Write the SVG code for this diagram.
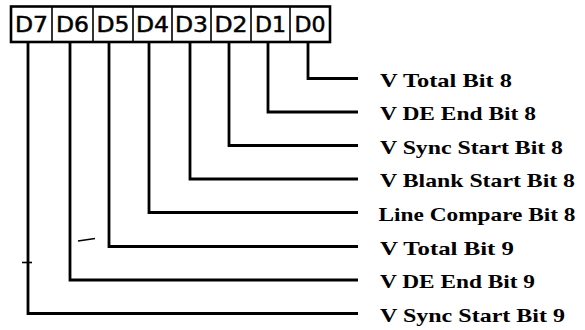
<svg xmlns="http://www.w3.org/2000/svg" width="585" height="330" viewBox="0 0 585 330">
  <style>
    .frame { fill: #fff; stroke: #000; stroke-width: 2.6; }
    .div { stroke: #000; stroke-width: 1.6; }
    .bit { font-family: "DejaVu Sans", "Liberation Sans", sans-serif; font-size: 21px; fill: #000; stroke: #000; stroke-width: 0.5; text-anchor: middle; }
    .wire { fill: none; stroke: #000; stroke-width: 2.8; stroke-linejoin: miter; }
    .lbl { font-family: "Liberation Serif", "Times New Roman", serif; font-weight: bold; font-size: 19px; fill: #000; }
    .mark { stroke: #000; stroke-width: 1.6; fill: none; }
  </style>

  <!-- register field: D7 .. D0 -->
  <g id="register">
    <rect class="frame" x="11" y="6.5" width="319" height="35.5"/>
    <line class="div" x1="52" y1="6.5" x2="52" y2="42"/>
    <line class="div" x1="93" y1="6.5" x2="93" y2="42"/>
    <line class="div" x1="133" y1="6.5" x2="133" y2="42"/>
    <line class="div" x1="172" y1="6.5" x2="172" y2="42"/>
    <line class="div" x1="211" y1="6.5" x2="211" y2="42"/>
    <line class="div" x1="251" y1="6.5" x2="251" y2="42"/>
    <line class="div" x1="290" y1="6.5" x2="290" y2="42"/>
    <text class="bit" x="31.5" y="32" textLength="33" lengthAdjust="spacingAndGlyphs">D7</text>
    <text class="bit" x="72.5" y="32" textLength="33" lengthAdjust="spacingAndGlyphs">D6</text>
    <text class="bit" x="113" y="32" textLength="33" lengthAdjust="spacingAndGlyphs">D5</text>
    <text class="bit" x="152.5" y="32" textLength="33" lengthAdjust="spacingAndGlyphs">D4</text>
    <text class="bit" x="191.5" y="32" textLength="33" lengthAdjust="spacingAndGlyphs">D3</text>
    <text class="bit" x="231" y="32" textLength="33" lengthAdjust="spacingAndGlyphs">D2</text>
    <text class="bit" x="270.5" y="32" textLength="31" lengthAdjust="spacingAndGlyphs">D1</text>
    <text class="bit" x="310" y="32" textLength="31" lengthAdjust="spacingAndGlyphs">D0</text>
  </g>

  <!-- leader lines from each bit to its label -->
  <g id="connectors">
    <polyline class="wire" points="308,42 308,78.5 358,78.5"/>
    <polyline class="wire" points="268,42 268,112 358,112"/>
    <polyline class="wire" points="229,42 229,145.5 358,145.5"/>
    <polyline class="wire" points="190,42 190,179 358,179"/>
    <polyline class="wire" points="149,42 149,212.5 358,212.5"/>
    <polyline class="wire" points="109,42 109,246.5 358,246.5"/>
    <polyline class="wire" points="70,42 70,280 358,280"/>
    <polyline class="wire" points="28,42 28,313.5 358,313.5"/>
  </g>

  <g id="label-d0"><text class="lbl" x="380" y="86.5" textLength="132" lengthAdjust="spacingAndGlyphs">V Total Bit 8</text></g>
  <g id="label-d1"><text class="lbl" x="380" y="120" textLength="156" lengthAdjust="spacingAndGlyphs">V DE End Bit 8</text></g>
  <g id="label-d2"><text class="lbl" x="380" y="153.5" textLength="183" lengthAdjust="spacingAndGlyphs">V Sync Start Bit 8</text></g>
  <g id="label-d3"><text class="lbl" x="380" y="187" textLength="195" lengthAdjust="spacingAndGlyphs">V Blank Start Bit 8</text></g>
  <g id="label-d4"><text class="lbl" x="378.5" y="220.5" textLength="197" lengthAdjust="spacingAndGlyphs">Line Compare Bit 8</text></g>
  <g id="label-d5"><text class="lbl" x="380" y="254.5" textLength="134" lengthAdjust="spacingAndGlyphs">V Total Bit 9</text></g>
  <g id="label-d6"><text class="lbl" x="380" y="288" textLength="155" lengthAdjust="spacingAndGlyphs">V DE End Bit 9</text></g>
  <g id="label-d7"><text class="lbl" x="380" y="321.5" textLength="185" lengthAdjust="spacingAndGlyphs">V Sync Start Bit 9</text></g>

  <!-- small stray pen marks -->
  <path class="mark" d="M78,241 L95,238.5"/>
  <path class="mark" d="M22,262.5 L32,262.5"/>
</svg>
